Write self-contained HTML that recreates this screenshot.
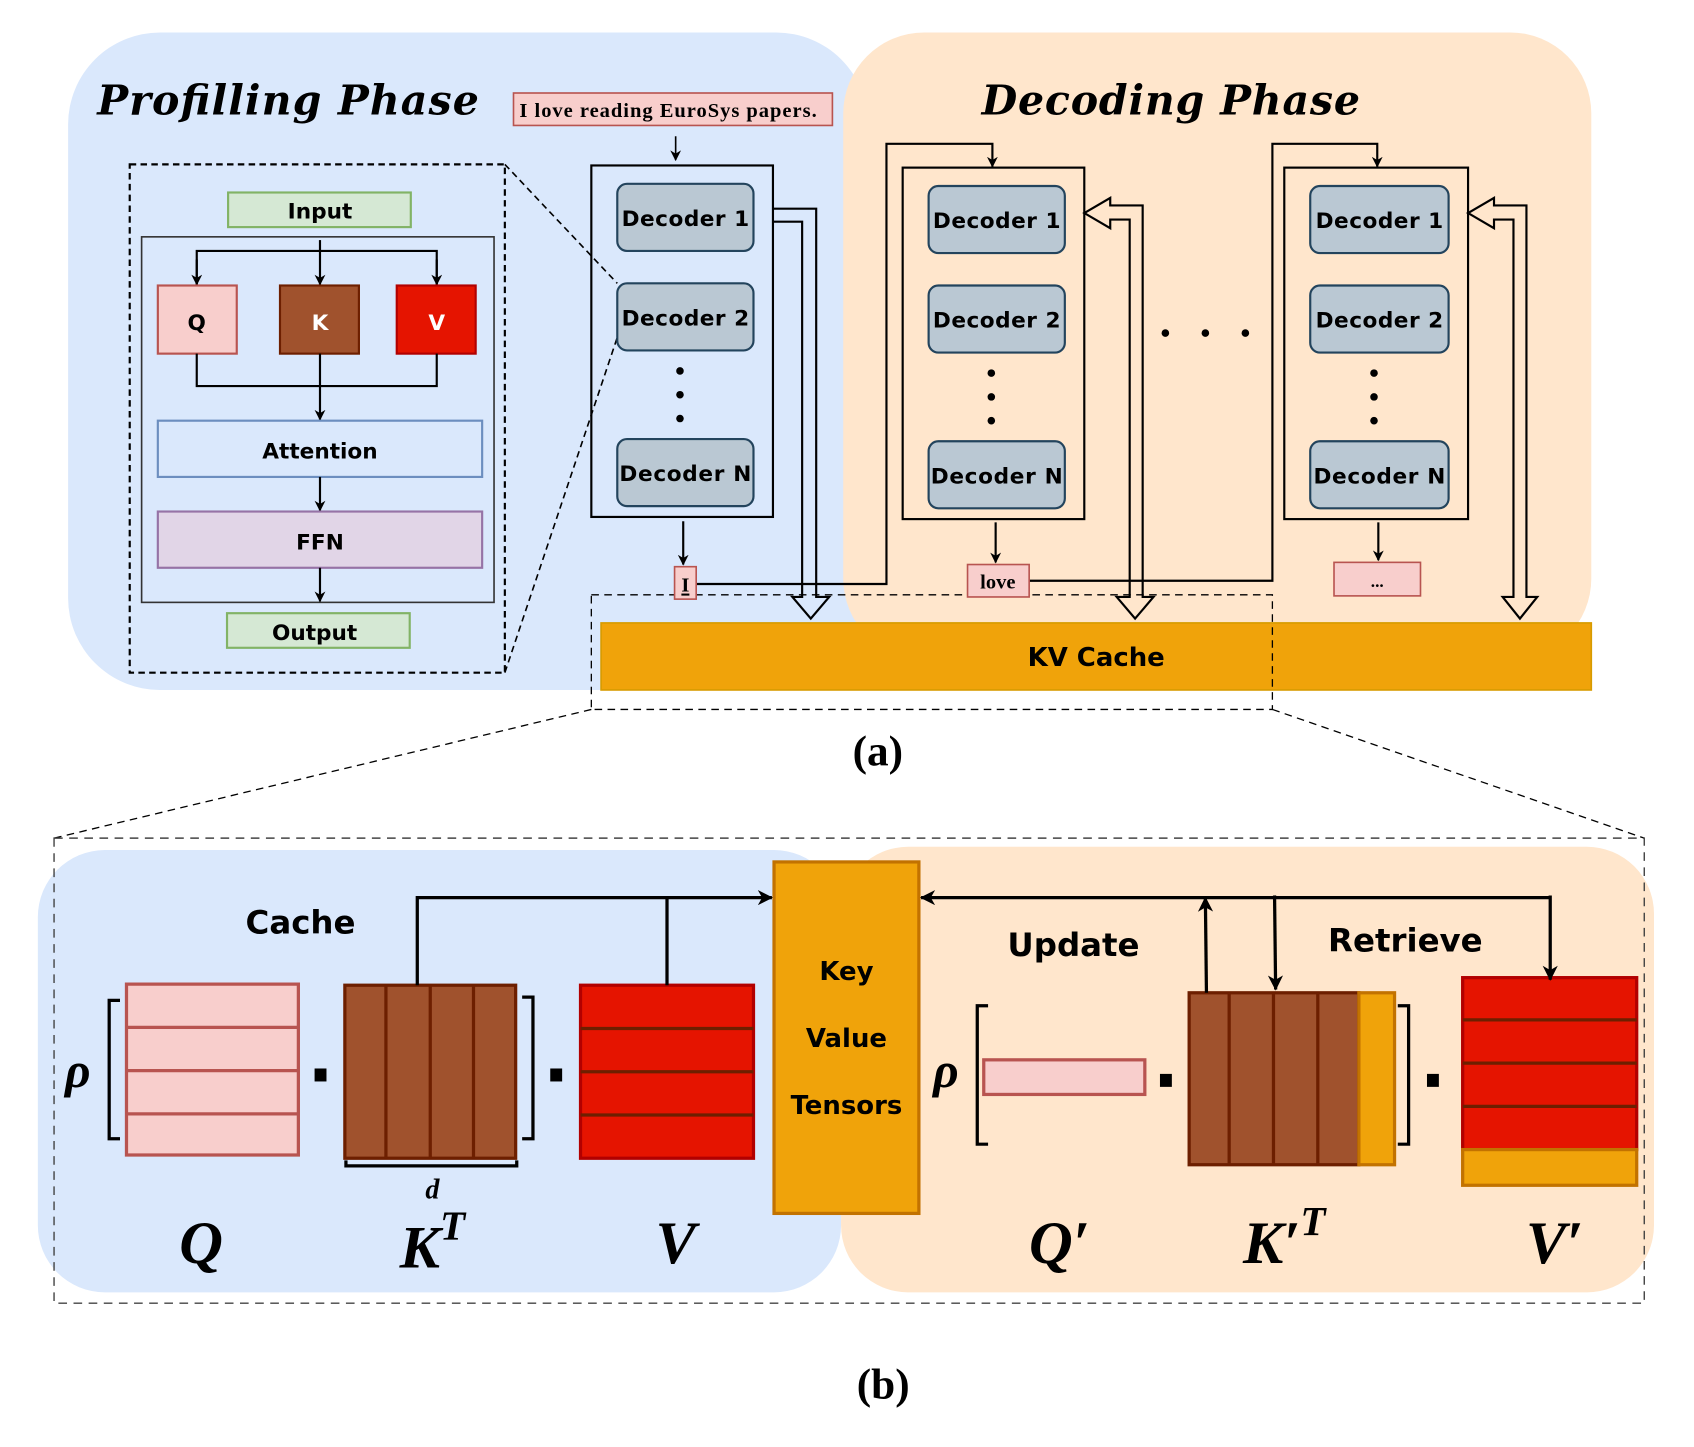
<!DOCTYPE html>
<html><head><meta charset="utf-8"><style>html,body{margin:0;padding:0;background:#fff}svg{display:block}</style></head><body>
<svg width="1694" height="1447" viewBox="0 0 1567 1338" preserveAspectRatio="none" xmlns="http://www.w3.org/2000/svg">
<defs>
<marker id="ah" markerWidth="10" markerHeight="10" refX="9" refY="5" orient="auto" markerUnits="userSpaceOnUse"><path d="M0,0 L10,5 L0,10 L3,5 z" fill="#000"/></marker>
<marker id="ahb" markerWidth="14" markerHeight="14" refX="13" refY="7" orient="auto" markerUnits="userSpaceOnUse"><path d="M0,0 L14,7 L0,14 L4,7 z" fill="#000"/></marker>
</defs>
<style>
.dec{font-family:"DejaVu Sans",sans-serif;font-weight:bold;font-size:20px;text-anchor:middle}
.t{font-family:"DejaVu Sans",sans-serif;font-weight:bold;text-anchor:middle}
.m{font-family:"Liberation Serif",serif;font-weight:bold;font-style:italic;text-anchor:middle}
</style>
<rect x="63" y="30" width="740" height="608" rx="85" fill="#dae8fc"/>
<rect x="780" y="30" width="692" height="580" rx="75" fill="#ffe6cc"/>
<text x="90" y="106" font-family="DejaVu Serif,serif" font-weight="bold" font-style="italic" font-size="38" textLength="353">Profilling Phase</text>
<text x="908" y="106" font-family="DejaVu Serif,serif" font-weight="bold" font-style="italic" font-size="38" textLength="350">Decoding Phase</text>
<rect x="475" y="86" width="295" height="30" fill="#f8cecc" stroke="#b85450" stroke-width="1.5"/>
<text x="618" y="108" font-family="Liberation Serif,serif" font-weight="bold" font-size="19" text-anchor="middle" textLength="275">I love reading EuroSys papers.</text>
<line x1="625" y1="126" x2="625" y2="148" stroke="#000" stroke-width="1.5" marker-end="url(#ah)"/>

<rect x="120" y="152" width="347" height="470" fill="none" stroke="#000" stroke-width="2" stroke-dasharray="6,4"/>
<line x1="467" y1="152" x2="571" y2="262" stroke="#000" stroke-width="1.5" stroke-dasharray="6,4"/>
<line x1="467" y1="622" x2="571" y2="312" stroke="#000" stroke-width="1.5" stroke-dasharray="6,4"/>
<rect x="211" y="178" width="169" height="32" fill="#d5e8d4" stroke="#82b366" stroke-width="2"/>
<text x="296" y="202" class="t" font-size="20">Input</text>
<rect x="131" y="219" width="326" height="338" fill="none" stroke="#333" stroke-width="1.5"/>
<path d="M182,263 V232 H404 V263" fill="none" stroke="#000" stroke-width="2"/>
<line x1="182" y1="240" x2="182" y2="263" stroke="#000" stroke-width="2" marker-end="url(#ah)"/>
<line x1="404" y1="240" x2="404" y2="263" stroke="#000" stroke-width="2" marker-end="url(#ah)"/>
<line x1="296" y1="222" x2="296" y2="263" stroke="#000" stroke-width="2" marker-end="url(#ah)"/>
<rect x="146" y="264" width="73" height="63" fill="#f8cecc" stroke="#b85450" stroke-width="2"/>
<rect x="259" y="264" width="73" height="63" fill="#a0522d" stroke="#6d1f00" stroke-width="2"/>
<rect x="367" y="264" width="73" height="63" fill="#e51400" stroke="#b20000" stroke-width="2"/>
<text x="182" y="305" class="t" font-size="20">Q</text>
<text x="296" y="305" class="t" font-size="20" fill="#fff">K</text>
<text x="404" y="305" class="t" font-size="20" fill="#fff">V</text>
<path d="M182,327 V357 H404 V327" fill="none" stroke="#000" stroke-width="2"/>
<line x1="296" y1="327" x2="296" y2="388" stroke="#000" stroke-width="2" marker-end="url(#ah)"/>
<rect x="146" y="389" width="300" height="52" fill="#dae8fc" stroke="#6c8ebf" stroke-width="2"/>
<text x="296" y="424" class="t" font-size="20">Attention</text>
<line x1="296" y1="441" x2="296" y2="472" stroke="#000" stroke-width="2" marker-end="url(#ah)"/>
<rect x="146" y="473" width="300" height="52" fill="#e1d5e7" stroke="#9673a6" stroke-width="2"/>
<text x="296" y="508" class="t" font-size="20">FFN</text>
<line x1="296" y1="525" x2="296" y2="556" stroke="#000" stroke-width="2" marker-end="url(#ah)"/>
<rect x="210" y="567" width="169" height="32" fill="#d5e8d4" stroke="#82b366" stroke-width="2"/>
<text x="291" y="592" class="t" font-size="20">Output</text>

<rect x="547" y="153" width="168" height="325" fill="none" stroke="#000" stroke-width="2"/>
<g fill="#bac8d3" stroke="#23445d" stroke-width="2">
<rect x="571" y="170" width="126" height="62" rx="9"/><rect x="571" y="262" width="126" height="62" rx="9"/><rect x="571" y="406" width="126" height="62" rx="9"/>
<rect x="859" y="172" width="126" height="62" rx="9"/><rect x="859" y="264" width="126" height="62" rx="9"/><rect x="859" y="408" width="126" height="62" rx="9"/>
<rect x="1212" y="172" width="128" height="62" rx="9"/><rect x="1212" y="264" width="128" height="62" rx="9"/><rect x="1212" y="408" width="128" height="62" rx="9"/>
</g>
<g class="dec">
<text x="634" y="209" textLength="118">Decoder 1</text><text x="634" y="301" textLength="118">Decoder 2</text><text x="634" y="445" textLength="122">Decoder N</text>
<text x="922" y="211" textLength="118">Decoder 1</text><text x="922" y="303" textLength="118">Decoder 2</text><text x="922" y="447" textLength="122">Decoder N</text>
<text x="1276" y="211" textLength="118">Decoder 1</text><text x="1276" y="303" textLength="118">Decoder 2</text><text x="1276" y="447" textLength="122">Decoder N</text>
</g>
<g fill="#000">
<circle cx="629" cy="343" r="3.5"/><circle cx="629" cy="365" r="3.5"/><circle cx="629" cy="387" r="3.5"/>
<circle cx="917" cy="345" r="3.5"/><circle cx="917" cy="367" r="3.5"/><circle cx="917" cy="389" r="3.5"/>
<circle cx="1271" cy="345" r="3.5"/><circle cx="1271" cy="367" r="3.5"/><circle cx="1271" cy="389" r="3.5"/>
<circle cx="1078" cy="308" r="3.5"/><circle cx="1115" cy="308" r="3.5"/><circle cx="1152" cy="308" r="3.5"/>
</g>
<rect x="835" y="155" width="168" height="325" fill="none" stroke="#000" stroke-width="2"/>
<rect x="1188" y="155" width="170" height="325" fill="none" stroke="#000" stroke-width="2"/>

<rect x="556" y="576" width="916" height="62" fill="#f0a30a" stroke="#d79b00" stroke-width="1.5"/>
<text x="1014" y="616" class="t" font-size="24">KV Cache</text>
<rect x="547" y="550" width="630" height="106" fill="none" stroke="#000" stroke-width="1.2" stroke-dasharray="7,5"/>

<g fill="none" stroke="#000" stroke-width="2">
<path d="M715,193 H755 V552 H767 L750,572 L733,552 H742 V205 H715"/>
<path d="M1003,197 L1027,183 V190 H1057 V552 H1067 L1050,572 L1033,552 H1045 V203 H1027 V211 Z"/>
<path d="M1358,197 L1382,183 V190 H1412 V552 H1422 L1406,572 L1390,552 H1400 V203 H1382 V211 Z"/>
</g>
<line x1="632" y1="482" x2="632" y2="522" stroke="#000" stroke-width="2" marker-end="url(#ah)"/>
<line x1="921" y1="483" x2="921" y2="520" stroke="#000" stroke-width="2" marker-end="url(#ah)"/>
<line x1="1275" y1="483" x2="1275" y2="518" stroke="#000" stroke-width="2" marker-end="url(#ah)"/>
<path d="M644,540 H820 V133 H918 V154" fill="none" stroke="#000" stroke-width="2" marker-end="url(#ah)"/>
<path d="M952,537 H1177 V133 H1274 V154" fill="none" stroke="#000" stroke-width="2" marker-end="url(#ah)"/>
<rect x="624" y="524" width="20" height="30" fill="#f8cecc" stroke="#b85450" stroke-width="1.5"/>
<text x="634" y="547" font-family="Liberation Serif,serif" font-weight="bold" font-size="19" text-anchor="middle" text-decoration="underline">I</text>
<rect x="895" y="522" width="57" height="30" fill="#f8cecc" stroke="#b85450" stroke-width="1.5"/>
<text x="923" y="544" font-family="Liberation Serif,serif" font-weight="bold" font-size="19" text-anchor="middle">love</text>
<rect x="1234" y="520" width="80" height="31" fill="#f8cecc" stroke="#b85450" stroke-width="1.5"/>
<text x="1274" y="543" font-family="Liberation Serif,serif" font-weight="bold" font-size="16" text-anchor="middle">...</text>

<text x="812" y="708" font-family="Liberation Serif,serif" font-weight="bold" font-size="40" text-anchor="middle">(a)</text>
<line x1="547" y1="656" x2="50" y2="775" stroke="#000" stroke-width="1.2" stroke-dasharray="7,5"/>
<line x1="1177" y1="656" x2="1521" y2="775" stroke="#000" stroke-width="1.2" stroke-dasharray="7,5"/>

<rect x="35" y="786" width="743" height="409" rx="62" fill="#dae8fc"/>
<rect x="778" y="783" width="752" height="412" rx="62" fill="#ffe6cc"/>
<rect x="50" y="775" width="1471" height="430" fill="none" stroke="#444" stroke-width="1.3" stroke-dasharray="8,6"/>
<text x="278" y="863" class="t" font-size="30">Cache</text>
<text x="993" y="884" class="t" font-size="30">Update</text>
<text x="1300" y="880" class="t" font-size="30">Retrieve</text>

<g stroke="#b85450" stroke-width="3" fill="#f8cecc">
<rect x="117" y="910" width="159" height="158"/>
<line x1="117" y1="950" x2="276" y2="950"/><line x1="117" y1="990" x2="276" y2="990"/><line x1="117" y1="1030" x2="276" y2="1030"/>
<rect x="910" y="980" width="149" height="32"/>
</g>
<g stroke="#6d1f00" stroke-width="3" fill="#a0522d">
<rect x="319" y="911" width="158" height="160"/>
<line x1="357" y1="911" x2="357" y2="1071"/><line x1="398" y1="911" x2="398" y2="1071"/><line x1="438" y1="911" x2="438" y2="1071"/>
<rect x="1100" y="918" width="157" height="159"/>
<line x1="1137" y1="918" x2="1137" y2="1077"/><line x1="1178" y1="918" x2="1178" y2="1077"/><line x1="1219" y1="918" x2="1219" y2="1077"/>
</g>
<rect x="1257" y="918" width="33" height="159" fill="#f0a30a" stroke="#c27200" stroke-width="3"/>
<g stroke="#b20000" stroke-width="3" fill="#e51400">
<rect x="537" y="911" width="160" height="160"/>
<rect x="1353" y="904" width="161" height="159"/>
</g>
<g stroke="#6d1f00" stroke-width="3">
<line x1="537" y1="951" x2="697" y2="951"/><line x1="537" y1="991" x2="697" y2="991"/><line x1="537" y1="1031" x2="697" y2="1031"/>
<line x1="1353" y1="943" x2="1514" y2="943"/><line x1="1353" y1="983" x2="1514" y2="983"/><line x1="1353" y1="1023" x2="1514" y2="1023"/>
</g>
<rect x="1353" y="1063" width="161" height="33" fill="#f0a30a" stroke="#c27200" stroke-width="3"/>
<g fill="none" stroke="#000" stroke-width="3">
<path d="M111,925 H101 V1053 H111"/><path d="M483,922 H493 V1053 H483"/>
<path d="M914,930 H904 V1058 H914"/><path d="M1293,930 H1303 V1058 H1293"/>
<path d="M320,1073 V1078 H478 V1073"/>
</g>
<g fill="#000"><rect x="291" y="988" width="11" height="12"/><rect x="509" y="988" width="11" height="12"/><rect x="1073" y="993" width="11" height="12"/><rect x="1320" y="993" width="11" height="12"/></g>
<text x="72" y="1005" class="m" font-size="46">ρ</text>
<text x="875" y="1005" class="m" font-size="46">ρ</text>
<text x="400" y="1108" class="m" font-size="26">d</text>
<text x="186" y="1168" class="m" font-size="56">Q</text>
<text x="400" y="1172" class="m" font-size="56">K<tspan font-size="38" dy="-26">T</tspan></text>
<text x="625" y="1168" class="m" font-size="56">V</text>
<text x="980" y="1168" class="m" font-size="56">Q′</text>
<text x="1188" y="1168" class="m" font-size="56">K′<tspan font-size="38" dy="-26">T</tspan></text>
<text x="1438" y="1168" class="m" font-size="56">V′</text>

<rect x="716" y="797" width="134" height="325" fill="#f0a30a" stroke="#c27200" stroke-width="3"/>
<text x="783" y="906" class="t" font-size="24">Key</text>
<text x="783" y="968" class="t" font-size="24">Value</text>
<text x="783" y="1030" class="t" font-size="24">Tensors</text>
<path d="M386,911 V830 H714" fill="none" stroke="#000" stroke-width="3" marker-end="url(#ahb)"/>
<line x1="617" y1="911" x2="617" y2="830" stroke="#000" stroke-width="3"/>
<path d="M1434,830 H852" fill="none" stroke="#000" stroke-width="3" marker-end="url(#ahb)"/>
<line x1="1434" y1="828" x2="1434" y2="906" stroke="#000" stroke-width="3" marker-end="url(#ahb)"/>
<line x1="1179" y1="828" x2="1180" y2="915" stroke="#000" stroke-width="3" marker-end="url(#ahb)"/>
<line x1="1116" y1="918" x2="1115" y2="830" stroke="#000" stroke-width="3" marker-end="url(#ahb)"/>

<text x="817" y="1293" font-family="Liberation Serif,serif" font-weight="bold" font-size="40" text-anchor="middle">(b)</text>
</svg>
</body></html>
